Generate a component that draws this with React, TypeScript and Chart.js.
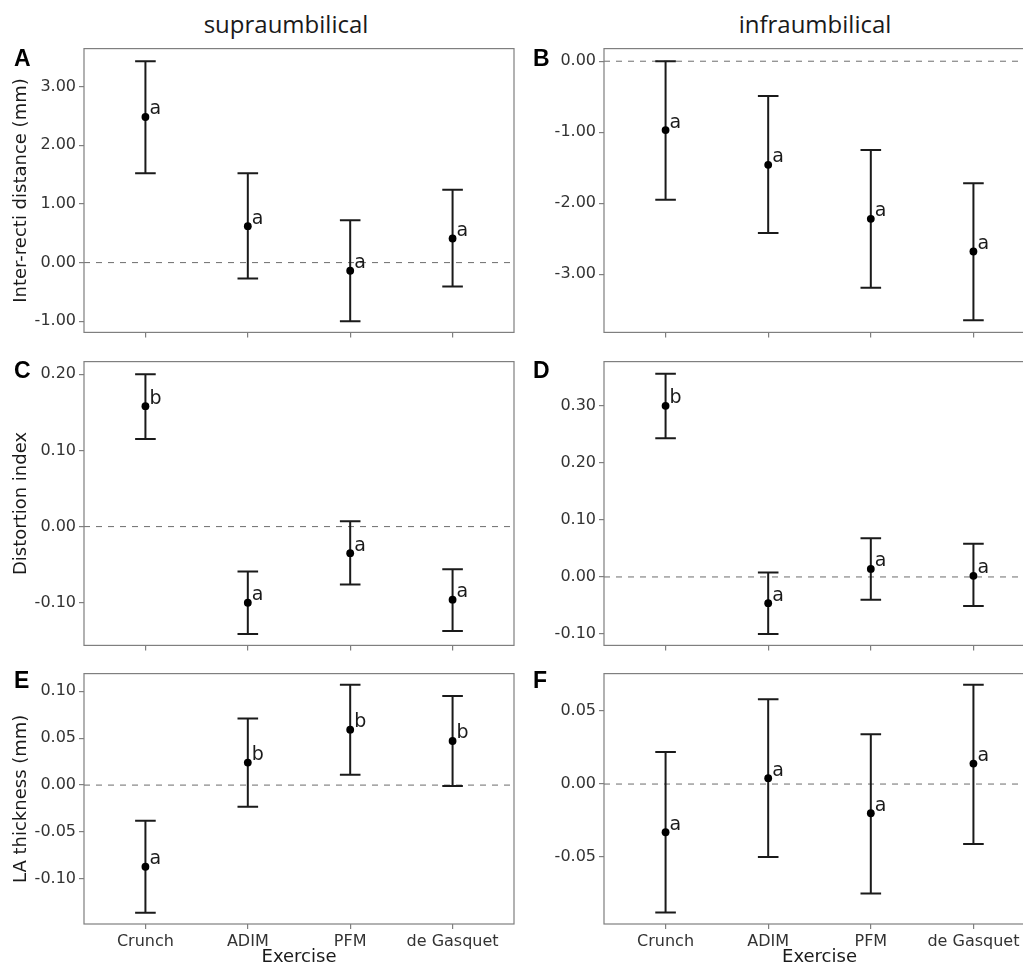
import React, { useEffect, useRef } from 'react';
import { Chart, registerables } from 'chart.js';

Chart.register(...registerables);

const FONT = '"DejaVu Sans", sans-serif';

// ---------- data ----------
const exercises = ['Crunch', 'ADIM', 'PFM', 'de Gasquet'];
const columnTitles = ['supraumbilical', 'infraumbilical'];
const xTitle = 'Exercise';

// A: supraumbilical inter-recti distance
const aMean = [2.48, 0.62, -0.14, 0.41];
const aLow = [1.52, -0.27, -1.0, -0.41];
const aHigh = [3.43, 1.52, 0.72, 1.24];
const aLetters = ['a', 'a', 'a', 'a'];
const aTicks = [-1, 0, 1, 2, 3];
const aRange = [-1.19, 3.645];

// B: infraumbilical inter-recti distance
const bMean = [-0.97, -1.46, -2.22, -2.68];
const bLow = [-1.95, -2.42, -3.19, -3.65];
const bHigh = [0.0, -0.49, -1.25, -1.72];
const bLetters = ['a', 'a', 'a', 'a'];
const bTicks = [-3, -2, -1, 0];
const bRange = [-3.82, 0.178];

// C: supraumbilical distortion index
const cMean = [0.158, -0.1, -0.035, -0.096];
const cLow = [0.115, -0.141, -0.076, -0.137];
const cHigh = [0.2, -0.059, 0.007, -0.056];
const cLetters = ['b', 'a', 'a', 'a'];
const cTicks = [-0.1, 0, 0.1, 0.2];
const cRange = [-0.156, 0.2165];

// D: infraumbilical distortion index
const dMean = [0.3, -0.046, 0.014, 0.002];
const dLow = [0.243, -0.1, -0.04, -0.051];
const dHigh = [0.356, 0.008, 0.068, 0.058];
const dLetters = ['b', 'a', 'a', 'a'];
const dTicks = [-0.1, 0, 0.1, 0.2, 0.3];
const dRange = [-0.12, 0.3775];

// E: supraumbilical LA thickness
const eMean = [-0.087, 0.024, 0.059, 0.047];
const eLow = [-0.136, -0.023, 0.011, -0.001];
const eHigh = [-0.038, 0.071, 0.107, 0.095];
const eLetters = ['a', 'b', 'b', 'b'];
const eTicks = [-0.1, -0.05, 0, 0.05, 0.1];
const eRange = [-0.148, 0.1188];

// F: infraumbilical LA thickness
const fMean = [-0.033, 0.004, -0.02, 0.014];
const fLow = [-0.088, -0.05, -0.075, -0.041];
const fHigh = [0.022, 0.058, 0.034, 0.068];
const fLetters = ['a', 'a', 'a', 'a'];
const fTicks = [-0.05, 0, 0.05];
const fRange = [-0.0958, 0.0756];

// ---------- layout ----------
const COLS = [
  { left: 0, width: 522, padRight: 8, yAxisW: 84, letterX: 14 },
  { left: 520, width: 525, padRight: 10, yAxisW: 84, letterX: 533 },
];
const ROWS = [
  { top: 36, height: 309, padTop: 12, xAxisH: 12, labels: false, letterY: 47 },
  { top: 349, height: 309, padTop: 12, xAxisH: 12, labels: false, letterY: 359 },
  { top: 661, height: 320, padTop: 12, xAxisH: 57, labels: true, letterY: 669 },
];

type Spec = {
  letter: string;
  col: number;
  row: number;
  yTitle: string;
  mean: number[];
  low: number[];
  high: number[];
  letters: string[];
  ticks: number[];
  range: number[];
};

const panels: Spec[] = [
  { letter: 'A', col: 0, row: 0, yTitle: 'Inter-recti distance (mm)', mean: aMean, low: aLow, high: aHigh, letters: aLetters, ticks: aTicks, range: aRange },
  { letter: 'B', col: 1, row: 0, yTitle: '', mean: bMean, low: bLow, high: bHigh, letters: bLetters, ticks: bTicks, range: bRange },
  { letter: 'C', col: 0, row: 1, yTitle: 'Distortion index', mean: cMean, low: cLow, high: cHigh, letters: cLetters, ticks: cTicks, range: cRange },
  { letter: 'D', col: 1, row: 1, yTitle: '', mean: dMean, low: dLow, high: dHigh, letters: dLetters, ticks: dTicks, range: dRange },
  { letter: 'E', col: 0, row: 2, yTitle: 'LA thickness (mm)', mean: eMean, low: eLow, high: eHigh, letters: eLetters, ticks: eTicks, range: eRange },
  { letter: 'F', col: 1, row: 2, yTitle: '', mean: fMean, low: fLow, high: fHigh, letters: fLetters, ticks: fTicks, range: fRange },
];

const errorBarPlugin = {
  id: 'errorBars',
  beforeDatasetsDraw(chart: any) {
    const { ctx, chartArea, scales } = chart;
    const xs = scales.x;
    const ys = scales.y;
    ctx.save();
    // panel frame
    ctx.strokeStyle = '#7f7f7f';
    ctx.lineWidth = 1.2;
    ctx.strokeRect(chartArea.left, chartArea.top, chartArea.right - chartArea.left, chartArea.bottom - chartArea.top);
    // dashed zero reference line
    const y0 = ys.getPixelForValue(0);
    ctx.setLineDash([6, 6]);
    ctx.strokeStyle = '#7a7a7a';
    ctx.lineWidth = 1.1;
    ctx.beginPath();
    ctx.moveTo(chartArea.left, y0);
    ctx.lineTo(chartArea.right, y0);
    ctx.stroke();
    ctx.setLineDash([]);
    // error bars
    const ds = chart.data.datasets[0];
    ctx.strokeStyle = '#1a1a1a';
    ctx.lineWidth = 2;
    ds.data.forEach((p: any, i: number) => {
      const px = xs.getPixelForValue(p.x);
      const yl = ys.getPixelForValue(ds.errLow[i]);
      const yh = ys.getPixelForValue(ds.errHigh[i]);
      const half = 10.3;
      ctx.beginPath();
      ctx.moveTo(px, yl);
      ctx.lineTo(px, yh);
      ctx.moveTo(px - half, yl);
      ctx.lineTo(px + half, yl);
      ctx.moveTo(px - half, yh);
      ctx.lineTo(px + half, yh);
      ctx.stroke();
    });
    ctx.restore();
  },
  afterDatasetsDraw(chart: any) {
    const { ctx, scales } = chart;
    const ds = chart.data.datasets[0];
    ctx.save();
    ctx.font = '19px ' + FONT;
    ctx.fillStyle = '#1a1a1a';
    ctx.textAlign = 'left';
    ctx.textBaseline = 'alphabetic';
    ds.data.forEach((p: any, i: number) => {
      const px = scales.x.getPixelForValue(p.x);
      const py = scales.y.getPixelForValue(p.y);
      ctx.fillText(ds.letters[i], px + 4, py - 2.5);
    });
    ctx.restore();
  },
};

function Panel({ spec }: { spec: Spec }) {
  const ref = useRef<HTMLCanvasElement>(null);
  const col = COLS[spec.col];
  const row = ROWS[spec.row];

  useEffect(() => {
    const chart = new Chart(ref.current as HTMLCanvasElement, {
      type: 'scatter',
      data: {
        datasets: [
          {
            data: spec.mean.map((m, i) => ({ x: i + 1, y: m })),
            errLow: spec.low,
            errHigh: spec.high,
            letters: spec.letters,
            pointRadius: 3.9,
            pointBackgroundColor: '#000',
            pointBorderWidth: 0,
            borderColor: '#000',
            showLine: false,
          } as any,
        ],
      },
      options: {
        animation: false,
        responsive: false,
        devicePixelRatio: 1,
        layout: { padding: { top: row.padTop, right: col.padRight, left: 0, bottom: 0 } },
        plugins: { legend: { display: false }, tooltip: { enabled: false } },
        scales: {
          x: {
            type: 'linear',
            min: 0.4,
            max: 4.6,
            afterBuildTicks: (s: any) => {
              s.ticks = exercises.map((_, i) => ({ value: i + 1 }));
            },
            afterFit: (s: any) => {
              s.height = row.xAxisH;
            },
            border: { display: false },
            grid: { drawOnChartArea: false, drawTicks: true, tickLength: 5, color: '#7f7f7f', lineWidth: 1.2 },
            ticks: {
              display: row.labels,
              autoSkip: false,
              maxRotation: 0,
              padding: 3,
              color: '#333333',
              font: { family: FONT, size: 16 },
              callback: (v: any) => exercises[Math.round(v) - 1] ?? '',
            },
            title: {
              display: row.labels,
              text: xTitle,
              color: '#1a1a1a',
              font: { family: FONT, size: 18 },
              padding: { top: 0, bottom: 13 },
            },
          },
          y: {
            type: 'linear',
            min: spec.range[0],
            max: spec.range[1],
            afterBuildTicks: (s: any) => {
              s.ticks = spec.ticks.map((v) => ({ value: v }));
            },
            afterFit: (s: any) => {
              s.width = col.yAxisW;
            },
            border: { display: false },
            grid: { drawOnChartArea: false, drawTicks: true, tickLength: 5, color: '#7f7f7f', lineWidth: 1.2 },
            ticks: {
              padding: 3,
              color: '#333333',
              font: { family: FONT, size: 16 },
              callback: (v: any) => Number(v).toFixed(2),
            },
            title: {
              display: spec.yTitle !== '',
              text: spec.yTitle,
              color: '#1a1a1a',
              font: { family: FONT, size: 18 },
              padding: { top: 11, bottom: 0 },
            },
          },
        },
      },
      plugins: [errorBarPlugin],
    } as any);
    return () => chart.destroy();
  }, []);

  return (
    <>
      <canvas
        ref={ref}
        width={col.width}
        height={row.height}
        style={{ position: 'absolute', left: col.left, top: row.top, width: col.width, height: row.height, display: 'block' }}
      />
      <div
        style={{
          position: 'absolute',
          left: col.letterX,
          top: row.letterY,
          font: 'bold 23px "Liberation Sans", Arial, sans-serif',
          lineHeight: '23px',
          color: '#000',
        }}
      >
        {spec.letter}
      </div>
    </>
  );
}

const titleCenters = [286, 815];

export default function App() {
  return (
    <div
      style={{
        position: 'absolute',
        left: 0,
        top: 0,
        width: 1023,
        height: 966,
        overflow: 'hidden',
        background: '#ffffff',
      }}
    >
      {columnTitles.map((t, i) => (
        <div
          key={t}
          style={{
            position: 'absolute',
            left: titleCenters[i] - 150,
            top: 12,
            width: 300,
            textAlign: 'center',
            font: '24px "Open Sans", "Noto Sans", sans-serif',
            lineHeight: '24px',
            color: '#1a1a1a',
          }}
        >
          {t}
        </div>
      ))}
      {panels.map((p) => (
        <Panel key={p.letter} spec={p} />
      ))}
    </div>
  );
}
